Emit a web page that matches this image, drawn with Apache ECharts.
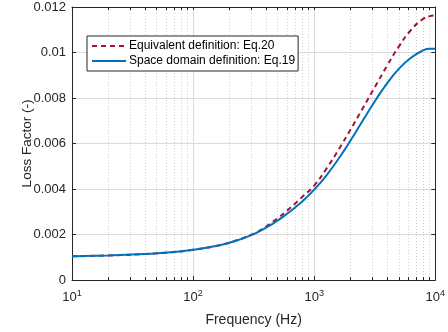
<!DOCTYPE html>
<html>
<head>
<meta charset="utf-8">
<script src="https://cdn.jsdelivr.net/npm/echarts@6/dist/echarts.min.js"></script>
<style>
  html, body { margin: 0; padding: 0; background: #fff; }
  #container { width: 448px; height: 332px; }
</style>
</head>
<body>
<div id="container"></div>
<script>
// frequency points (Hz)
const freq = [10, 20, 40, 70, 100, 150, 200, 300, 400, 500, 600, 700, 800, 1000,
              1250, 1600, 2000, 2500, 3200, 4000, 5000, 6300, 8000, 9000, 10000];

// Space domain definition: Eq.19 (solid blue)
const lossEq19 = [0.00104, 0.00108, 0.00114, 0.00123, 0.00133, 0.00148, 0.00164, 0.00196,
                  0.00230, 0.00262, 0.00292, 0.00320, 0.00346, 0.00397,
                  0.00457, 0.00535, 0.00614, 0.00698, 0.00789, 0.00864, 0.00928, 0.00977,
                  0.01010, 0.01017, 0.01016];

// Equivalent definition: Eq.20 (dashed red)
const lossEq20 = [0.00104, 0.00108, 0.00114, 0.00123, 0.00133, 0.00148, 0.00165, 0.00198,
                  0.00235, 0.00272, 0.00306, 0.00337, 0.00366, 0.00415,
                  0.00486, 0.00575, 0.00662, 0.00752, 0.00852, 0.00942, 0.01026, 0.01099,
                  0.01149, 0.01160, 0.01163];

const seriesNames = ['Equivalent definition: Eq.20', 'Space domain definition: Eq.19'];
const yTicks = [0, 0.002, 0.004, 0.006, 0.008, 0.01, 0.012];

// log axis: decades and the 2..9 steps in between
const decades = [10, 100, 1000, 10000];
const minorFreq = [20, 30, 40, 50, 60, 70, 80, 90,
                   200, 300, 400, 500, 600, 700, 800, 900,
                   2000, 3000, 4000, 5000, 6000, 7000, 8000, 9000];

const axisColor = '#262626';
const font = 'Liberation Sans, Arial, sans-serif';

function pairs(xs, ys) {
    return xs.map(function (x, i) { return [x, ys[i]]; });
}

const logAxisBase = {
    type: 'log',
    logBase: 10,
    min: 10,
    max: 10000
};

let option = {
    animation: false,
    backgroundColor: '#fff',
    grid: {
        left: 72,
        right: 10,
        top: 7,
        bottom: 52
    },
    legend: {
        orient: 'vertical',
        left: 87,
        top: 36,
        padding: [4, 3, 4, 4],
        itemGap: 3,
        itemWidth: 34,
        itemHeight: 13,
        borderColor: axisColor,
        borderWidth: 1,
        backgroundColor: '#fff',
        itemStyle: { opacity: 0 },
        textStyle: { fontFamily: font, fontSize: 12, color: '#000', padding: [0, 0, 0, -2] },
        data: seriesNames
    },
    xAxis: [
        Object.assign({}, logAxisBase, {
            name: 'Frequency (Hz)',
            nameLocation: 'middle',
            nameGap: 33,
            nameMoveOverlap: false,
            nameTextStyle: { fontFamily: font, fontSize: 14, color: axisColor },
            axisLine: { show: true, onZero: false, lineStyle: { color: axisColor, width: 1 } },
            axisTick: { show: true, inside: true, length: 4, lineStyle: { color: axisColor } },
            axisLabel: {
                margin: 9,
                formatter: function (v) {
                    return '{b|10}{s|' + Math.round(Math.log10(v)) + '}';
                },
                rich: {
                    b: { fontFamily: font, fontSize: 13, color: axisColor },
                    s: { fontFamily: font, fontSize: 9, color: axisColor, padding: [0, 0, 8, 0] }
                }
            },
            splitLine: { show: true, lineStyle: { color: '#dcdcdc', width: 1 } }
        }),
        // minor steps: dotted grid + small ticks along the bottom
        Object.assign({}, logAxisBase, {
            position: 'bottom',
            axisLine: { show: false, onZero: false },
            axisTick: { show: true, inside: true, length: 3, customValues: minorFreq,
                        lineStyle: { color: axisColor } },
            axisLabel: { show: false },
            splitLine: { show: true, lineStyle: { color: '#cfcfcf', type: [1, 2], width: 1 } }
        }),
        // top edge of the box
        Object.assign({}, logAxisBase, {
            position: 'top',
            axisLine: { show: true, onZero: false, lineStyle: { color: axisColor, width: 1 } },
            axisTick: { show: true, inside: true, length: 3,
                        customValues: decades.concat(minorFreq),
                        lineStyle: { color: axisColor } },
            axisLabel: { show: false },
            splitLine: { show: false }
        })
    ],
    yAxis: [
        {
            type: 'value',
            min: 0,
            max: 0.012,
            interval: 0.002,
            name: 'Loss Factor (-)',
            nameLocation: 'middle',
            nameGap: 38,
            nameMoveOverlap: false,
            nameTextStyle: { fontFamily: font, fontSize: 13.5, color: axisColor },
            axisLine: { show: true, onZero: false, lineStyle: { color: axisColor, width: 1 } },
            axisTick: { show: true, inside: true, length: 4, lineStyle: { color: axisColor } },
            axisLabel: {
                margin: 6,
                fontFamily: font,
                fontSize: 13,
                color: axisColor,
                formatter: function (v) {
                    let s = yTicks.find(function (t) { return Math.abs(t - v) < 1e-9; });
                    return s === undefined ? '' : String(s);
                }
            },
            splitLine: { show: true, lineStyle: { color: '#dcdcdc', width: 1 } }
        },
        {
            type: 'value',
            min: 0,
            max: 0.012,
            interval: 0.002,
            position: 'right',
            axisLine: { show: true, onZero: false, lineStyle: { color: axisColor, width: 1 } },
            axisTick: { show: true, inside: true, length: 4, lineStyle: { color: axisColor } },
            axisLabel: { show: false },
            splitLine: { show: false }
        }
    ],
    series: [
        {
            name: seriesNames[0],
            type: 'line',
            smooth: 0.5,
            symbol: 'none',
            z: 3,
            lineStyle: { color: '#A2142F', width: 2, type: [5, 4] },
            itemStyle: { color: '#A2142F' },
            data: pairs(freq, lossEq20)
        },
        {
            name: seriesNames[1],
            type: 'line',
            smooth: 0.5,
            symbol: 'none',
            z: 4,
            lineStyle: { color: '#0072BD', width: 2 },
            itemStyle: { color: '#0072BD' },
            data: pairs(freq, lossEq19)
        }
    ]
};

let chartDom = document.getElementById('container');
let chrt = echarts.init(chartDom, null, { renderer: 'canvas' });
chrt.setOption(option);
</script>
</body>
</html>
